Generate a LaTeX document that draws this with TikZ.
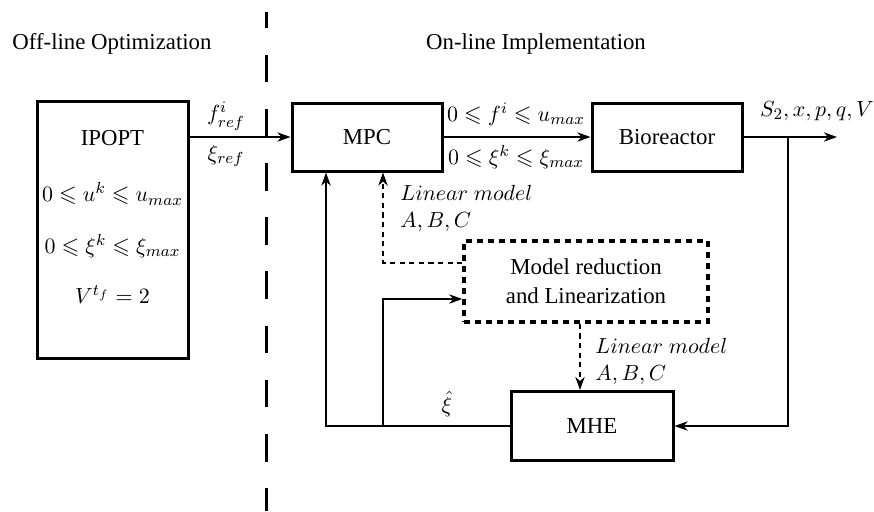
\documentclass[tikz,border=0pt]{standalone}
\usepackage{amssymb}
\usepackage[no-math]{fontspec}
\setmainfont{Liberation Serif}[Ligatures=TeX]
\usetikzlibrary{arrows.meta}

\tikzset{
  box/.style={draw, line width=1.5pt, inner sep=0pt},
  dbox/.style={draw, line width=1.7pt, dash pattern=on 3pt off 2.5pt, inner sep=0pt,
    align=center, font=\fontsize{11.4}{14.5}\selectfont},
  conn/.style={line width=1.1pt, -{Stealth[length=6.5pt, width=4.6pt, inset=2pt]}},
  dconn/.style={conn, dash pattern=on 2.6pt off 2.2pt},
  lbl/.style={inner sep=0pt},
  divider/.style={line width=1.5pt, dash pattern=on 13.8pt off 13.3pt, dash phase=5.8pt}
}

\begin{document}
\begin{tikzpicture}[x=0.5pt, y=-0.5pt, font=\fontsize{11.4}{13.7}\selectfont]
\useasboundingbox (0,0) rectangle (874,511);

% section headings and the dividing line
\node[lbl] (offline) at (112,44) {Off-line Optimization};
\node[lbl] (online) at (536,44) {On-line Implementation};
\draw[divider] (266,12) -- (266,511);

% off-line optimizer
\node[box, minimum width=75.5pt, minimum height=128.5pt] (ipopt) at (112.5,229.5) {};
\node[lbl] (ipoptname) at (112.5,138) {IPOPT};
\node[lbl] (cu) at (112.5,194) {$0\leqslant u^k\leqslant u_{max}$};
\node[lbl] (cxi) at (112.5,246) {$0\leqslant \xi^k\leqslant \xi_{max}$};
\node[lbl] (cv) at (112.5,295) {$V^{t_f}=2$};

% on-line loop blocks
\node[box, minimum width=75pt, minimum height=34pt] (mpc) at (367,137) {MPC};
\node[box, minimum width=75pt, minimum height=34pt] (bio) at (667,137) {Bioreactor};
\node[dbox, minimum width=122pt, minimum height=40.5pt] (mr) at (586,281.5)
  {Model reduction\\and Linearization};
\node[box, minimum width=81pt, minimum height=34.5pt] (mhe) at (592,426) {MHE};

% reference trajectory into the MPC
\draw[conn] (ipopt.east |- mpc.west) -- (mpc.west);
\node[lbl] (fref) at (226,116) {$f^i_{ref}$};
\node[lbl] (xiref) at (226,156) {$\xi_{ref}$};

% control input to the plant
\draw[conn] (mpc.east) -- (bio.west);
\node[lbl] (fbound) at (516,114) {$0\leqslant f^i\leqslant u_{max}$};
\node[lbl] (xibound) at (516,157) {$0\leqslant \xi^k\leqslant \xi_{max}$};

% measured outputs
\coordinate (out) at (837,137);
\coordinate (tap) at (788,137);
\draw[conn] (bio.east) -- (out);
\node[lbl] (outputs) at (817,111) {$S_2, x, p, q, V$};
\draw[conn] (tap) |- (mhe.east);

% state estimate fed back
\coordinate (fbx) at (326,0);
\coordinate (brx) at (383,0);
\coordinate (brk) at (383,299);
\draw[conn] (mhe.west) -- (mhe.west -| fbx) -- (fbx |- mpc.south);
\draw[conn] (mhe.west -| brx) -- (brk) -- (brk -| mr.west);
\node[lbl] (xihat) at (447,404) {$\hat{\xi}$};

% linear models from the reduction block
\coordinate (dk) at (383,263);
\draw[dconn] (mr.west |- dk) -- (dk) -- (dk |- mpc.south);
\node[lbl, anchor=west] (lm1) at (400,193) {$Linear\ model$};
\node[lbl, anchor=west] (abc1) at (400,222) {$A, B, C$};

\coordinate (dmx) at (580,360);
\draw[dconn] (mr.south -| dmx) -- (mhe.north -| dmx);
\node[lbl, anchor=west] (lm2) at (595,346) {$Linear\ model$};
\node[lbl, anchor=west] (abc2) at (595,375) {$A, B, C$};
\end{tikzpicture}
\end{document}
